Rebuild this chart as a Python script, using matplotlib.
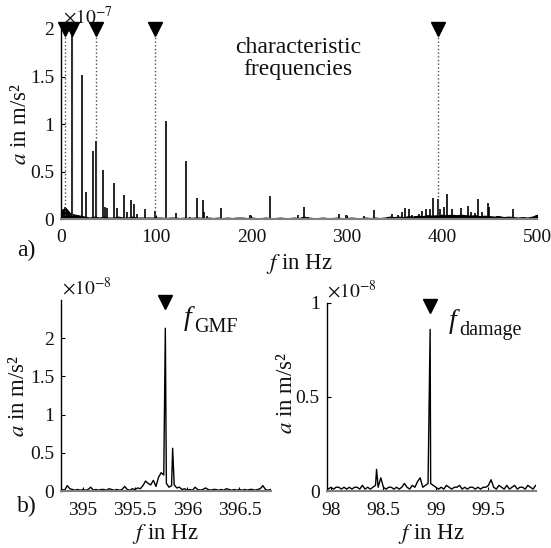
import matplotlib
matplotlib.use('Agg')
import matplotlib.pyplot as plt
import numpy as np
from matplotlib.ticker import FuncFormatter

plt.rcParams['font.family'] = ['Liberation Serif', 'DejaVu Serif']
plt.rcParams['mathtext.fontset'] = 'stix'

TXT = '#111111'

# ---- a) full spectrum, amplitudes in 1e-7 m/s^2 ----
peak_freq = [4.6, 11.2, 21.9, 26.1, 33.1, 36.5, 43.8, 46.2, 48.5, 55.2, 58.5,
             66.2, 69.7, 73.2, 76.7, 80.1, 88.2, 98.95, 110.0, 120.5, 131.4,
             136.0, 142.8, 149.2, 150.2, 153.7, 167.7, 198.5, 219.5, 230.0,
             249.3, 255.6, 259.8, 276.6, 292.2, 299.0, 318.3, 328.5, 348.0,
             354.3, 357.8, 361.3, 365.2, 369.0, 371.8, 376.4, 379.5, 383.0,
             387.3, 390.4, 395.8, 398.1, 402.0, 405.1, 410.4, 419.8, 427.2,
             430.7, 434.5, 438.0, 442.2, 448.2, 449.6, 457.6, 474.4, 490.8]
peak_amp = [0.13, 2.6, 1.52, 0.29, 0.72, 0.82, 0.52, 0.13, 0.12, 0.38, 0.12,
            0.26, 0.08, 0.20, 0.16, 0.06, 0.11, 0.086, 1.03, 0.07, 0.61,
            0.03, 0.23, 0.20, 0.08, 0.035, 0.12, 0.05, 0.25, 0.02,
            0.045, 0.13, 0.03, 0.02, 0.06, 0.05, 0.035, 0.10, 0.055,
            0.045, 0.08, 0.125, 0.11, 0.05, 0.04, 0.06, 0.09, 0.11,
            0.11, 0.23, 0.21, 0.115, 0.13, 0.27, 0.11, 0.12, 0.14,
            0.077, 0.066, 0.21, 0.08, 0.17, 0.13, 0.04, 0.105, 0.02]

# noise floor sampled every 5 Hz from 0 to 500 Hz
floor_freq = np.arange(0, 505, 5)
floor_amp = [0.10, 0.12, 0.06, 0.05, 0.04,
             0.03, 0.02, 0.03, 0.02, 0.03, 0.02, 0.02, 0.03, 0.02, 0.02, 0.03,
             0.02, 0.02, 0.02, 0.02, 0.02,
             0.02, 0.015, 0.02, 0.02, 0.015, 0.02, 0.015, 0.02, 0.02, 0.015,
             0.02, 0.015, 0.02, 0.015, 0.02, 0.015, 0.02, 0.02, 0.015, 0.02,
             0.015, 0.015, 0.02, 0.015, 0.015, 0.02, 0.015, 0.015, 0.02, 0.015,
             0.03, 0.02, 0.015, 0.015, 0.02, 0.015, 0.015, 0.02, 0.015, 0.015,
             0.02, 0.015, 0.015, 0.02, 0.015, 0.02, 0.015, 0.02, 0.03,
             0.025, 0.03, 0.025, 0.035, 0.03, 0.04, 0.035, 0.045, 0.04, 0.045,
             0.05, 0.045, 0.05, 0.045, 0.05, 0.045, 0.04, 0.045, 0.035, 0.04,
             0.035, 0.03, 0.035, 0.025, 0.03,
             0.025, 0.02, 0.025, 0.02, 0.03, 0.05]

char_freq = [4.6, 11.3, 36.5, 98.95, 395.8]

# ---- b) zoom around f_GMF, amplitudes in 1e-8 m/s^2 ----
gmf_grid = np.linspace(394.8, 396.8, 81)
gmf_floor = [0.02, 0.01, 0.07, 0.03, 0.02, 0.01, 0.02, 0.01, 0.02, 0.01,
             0.02, 0.05, 0.01, 0.02, 0.01, 0.02, 0.02, 0.01, 0.03, 0.02,
             0.01, 0.02, 0.01, 0.02, 0.06, 0.02, 0.01, 0.03, 0.02, 0.04,
             0.03, 0.07, 0.13, 0.10, 0.08, 0.14, 0.06, 0.18, 0.24, 0.21,
             0.10, 0.05, 0.07, 0.08, 0.04, 0.05, 0.02, 0.03, 0.01, 0.02,
             0.01, 0.05, 0.02, 0.01, 0.02, 0.04, 0.02, 0.01, 0.02, 0.02,
             0.01, 0.02, 0.01, 0.03, 0.02, 0.01, 0.02, 0.01, 0.02, 0.01,
             0.02, 0.01, 0.02, 0.02, 0.01, 0.02, 0.03, 0.07, 0.02, 0.01,
             0.02]
gmf_peak_freq = [395.79, 395.86]
gmf_peak_amp = [2.13, 0.56]

# ---- b) zoom around f_damage, amplitudes in 1e-8 m/s^2 ----
dmg_grid = np.linspace(97.95, 99.95, 81)
dmg_floor = [0.02, 0.01, 0.02, 0.01, 0.02, 0.02, 0.01, 0.02, 0.01, 0.02,
             0.01, 0.02, 0.02, 0.01, 0.03, 0.01, 0.02, 0.01, 0.02, 0.03,
             0.02, 0.07, 0.02, 0.01, 0.02, 0.02, 0.01, 0.02, 0.01, 0.02,
             0.04, 0.02, 0.01, 0.03, 0.02, 0.05, 0.07, 0.02, 0.03, 0.04,
             0.04, 0.03, 0.02, 0.01, 0.02, 0.01, 0.03, 0.02, 0.01, 0.02,
             0.02, 0.03, 0.01, 0.02, 0.01, 0.02, 0.02, 0.01, 0.02, 0.01,
             0.02, 0.02, 0.03, 0.06, 0.02, 0.01, 0.03, 0.02, 0.01, 0.03,
             0.01, 0.02, 0.03, 0.01, 0.02, 0.02, 0.01, 0.03, 0.02, 0.01,
             0.03]
dmg_peak_freq = [98.435, 98.945]
dmg_peak_amp = [0.115, 0.86]


def merge(grid, floor, pf, pa):
    f = np.concatenate([grid, pf])
    a = np.concatenate([floor, pa])
    idx = np.argsort(f)
    return f[idx], a[idx]


def style(ax, xpad, xlab_y, ylab_x, ylab_y=0.5):
    for s in ('top', 'right'):
        ax.spines[s].set_visible(False)
    ax.spines['left'].set_linewidth(1.0)
    ax.spines['bottom'].set_color('0.5')
    ax.spines['bottom'].set_linewidth(1.5)
    ax.tick_params(direction='in', length=3, width=0.8, labelsize=14,
                   labelcolor=TXT, pad=5)
    ax.tick_params(axis='x', pad=xpad)
    fmt = FuncFormatter(lambda v, p: f'{v:g}')
    ax.xaxis.set_major_formatter(fmt)
    ax.yaxis.set_major_formatter(fmt)
    ax.set_xlabel('$f$ in Hz', fontsize=16.5, color=TXT, va='center')
    ax.xaxis.set_label_coords(0.5, xlab_y)
    ax.set_ylabel('$a$ in m/s²', fontsize=16.5, color=TXT, va='center')
    ax.yaxis.set_label_coords(ylab_x, ylab_y)


def freq_label(ax, x, y, sub):
    # italic f with an upright subscript set slightly lower
    ax.text(x, y, 'f', fontsize=20, style='italic', color=TXT,
            ha='left', va='baseline')
    ax.annotate(sub, (x, y), xytext=(7.5, -5), textcoords='offset points',
                fontsize=14.5, color=TXT, ha='left', va='baseline')


fig = plt.figure(figsize=(5.51, 5.48), dpi=100)

# a) overview
ax = fig.add_axes([0.1107, 0.5995, 0.8639, 0.3476])
ax.fill_between(floor_freq, 0, floor_amp, color='k', lw=0.8)
ax.vlines(peak_freq, 0, peak_amp, color='k', lw=1.2)
ax.vlines(char_freq, 0, 1.93, colors='0.3', linestyles=':', lw=1.0)
ax.plot(char_freq, [2.0] * len(char_freq), 'kv', ms=10, clip_on=False)
ax.set_xlim(0, 500)
ax.set_ylim(0, 2)
ax.set_xticks([0, 100, 200, 300, 400, 500])
ax.set_yticks([0, 0.5, 1, 1.5, 2])
style(ax, 6.5, -0.232, -0.086)
ax.text(0.005, 1.005, r'$\times10^{-7}$', transform=ax.transAxes,
        fontsize=14, color=TXT, ha='left', va='bottom')
ax.text(249, 1.69, 'characteristic\nfrequencies', fontsize=17, color=TXT,
        ha='center', va='center', linespacing=1.1)
fig.text(26 / 551, 1 - 250 / 548, 'a)', fontsize=17, color=TXT,
         ha='center', va='center')

# b) left: gear mesh frequency
ax1 = fig.add_axes([0.1107, 0.104, 0.3806, 0.3485])
f, a = merge(gmf_grid, gmf_floor, gmf_peak_freq, gmf_peak_amp)
ax1.plot(f, a, color='k', lw=1.0)
ax1.plot([gmf_peak_freq[0]], [2.47], 'kv', ms=10.5, clip_on=False)
ax1.set_xlim(394.79, 396.8)
ax1.set_ylim(0, 2.5)
ax1.set_xticks([395, 395.5, 396, 396.5])
ax1.set_yticks([0, 0.5, 1, 1.5, 2])
style(ax1, 8, -0.225, -0.205)
ax1.text(0.005, 1.01, r'$\times10^{-8}$', transform=ax1.transAxes,
         fontsize=14, color=TXT, ha='left', va='bottom')
freq_label(ax1, 395.97, 2.17, 'GMF')
fig.text(27 / 551, 1 - 506 / 548, 'b)', fontsize=17, color=TXT,
         ha='center', va='center')

# b) right: damage frequency
ax2 = fig.add_axes([0.5929, 0.104, 0.3793, 0.3431])
f, a = merge(dmg_grid, dmg_floor, dmg_peak_freq, dmg_peak_amp)
ax2.plot(f, a, color='k', lw=1.0)
ax2.plot([dmg_peak_freq[1]], [0.985], 'kv', ms=10.5, clip_on=False)
ax2.set_xlim(97.96, 99.95)
ax2.set_ylim(0, 1)
ax2.set_xticks([98, 98.5, 99, 99.5])
ax2.set_yticks([0, 0.5, 1])
style(ax2, 8, -0.229, -0.19, 0.52)
ax2.text(0.0, 1.005, r'$\times10^{-8}$', transform=ax2.transAxes,
         fontsize=14, color=TXT, ha='left', va='bottom')
freq_label(ax2, 99.12, 0.867, 'damage')

fig.savefig('out.png', dpi=100)
